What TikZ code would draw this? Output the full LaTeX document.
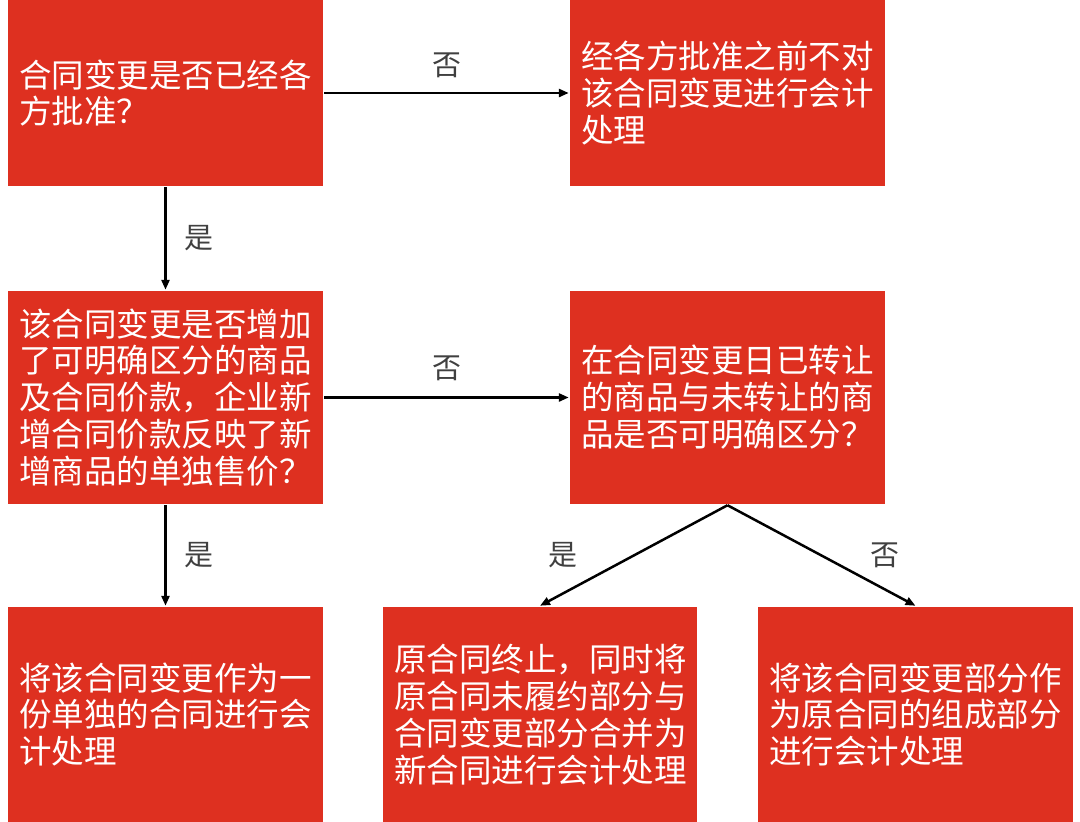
\documentclass[tikz,border=0pt]{standalone}
\usepackage{fontspec}
\setmainfont{Noto Sans CJK SC}
\usetikzlibrary{arrows.meta}
\definecolor{boxred}{HTML}{DE3020}
\definecolor{lblgray}{HTML}{404040}

\begin{document}
\begin{tikzpicture}[x=0.02cm,y=-0.02cm,->,>={Triangle[length=0.2cm,width=0.16cm]},line width=0.05cm,
    main node/.style={fill=boxred,draw=none,text=white,align=left,text width=5.86cm,inner xsep=0.22cm,inner ysep=0pt,font=\fontsize{18.5pt}{21pt}\selectfont},
    lbl/.style={text=lblgray,font=\fontsize{16.5pt}{18pt}\selectfont,inner sep=0pt}]

    \useasboundingbox (0,0) rectangle (1080,822);

    \node[main node, minimum height=3.72cm] (A) at (165.5,93) {合同变更是否已经各\\方批准？};
    \node[main node, minimum height=3.72cm] (B) at (727.5,93) {经各方批准之前不对\\该合同变更进行会计\\处理};
    \node[main node, minimum height=4.26cm] (C) at (165.5,397.5) {该合同变更是否增加\\了可明确区分的商品\\及合同价款，企业新\\增合同价款反映了新\\增商品的单独售价？};
    \node[main node, minimum height=4.26cm] (D) at (727.5,397.5) {在合同变更日已转让\\的商品与未转让的商\\品是否可明确区分？};
    \node[main node, minimum height=4.3cm] (E) at (165.5,714.5) {将该合同变更作为一\\份单独的合同进行会\\计处理};
    \node[main node, minimum height=4.3cm, text width=5.84cm] (F) at (540,714.5) {原合同终止，同时将\\原合同未履约部分与\\合同变更部分合并为\\新合同进行会计处理};
    \node[main node, minimum height=4.3cm] (G) at (915.5,714.5) {将该合同变更部分作\\为原合同的组成部分\\进行会计处理};

    \path
        (A.east) edge node[lbl, yshift=0.56cm] {否} (B.west)
        (A) edge node[lbl, xshift=0.68cm] {是} (C)
        (C.east) edge node[lbl, yshift=0.58cm] {否} (D.west)
        (C) edge node[lbl, xshift=0.68cm] {是} (E)
        (D.south) edge node[lbl, xshift=-1.41cm] {是} (F.north)
        (D.south) edge node[lbl, xshift=1.28cm] {否} (G.north)
    ;
\end{tikzpicture}
\end{document}
